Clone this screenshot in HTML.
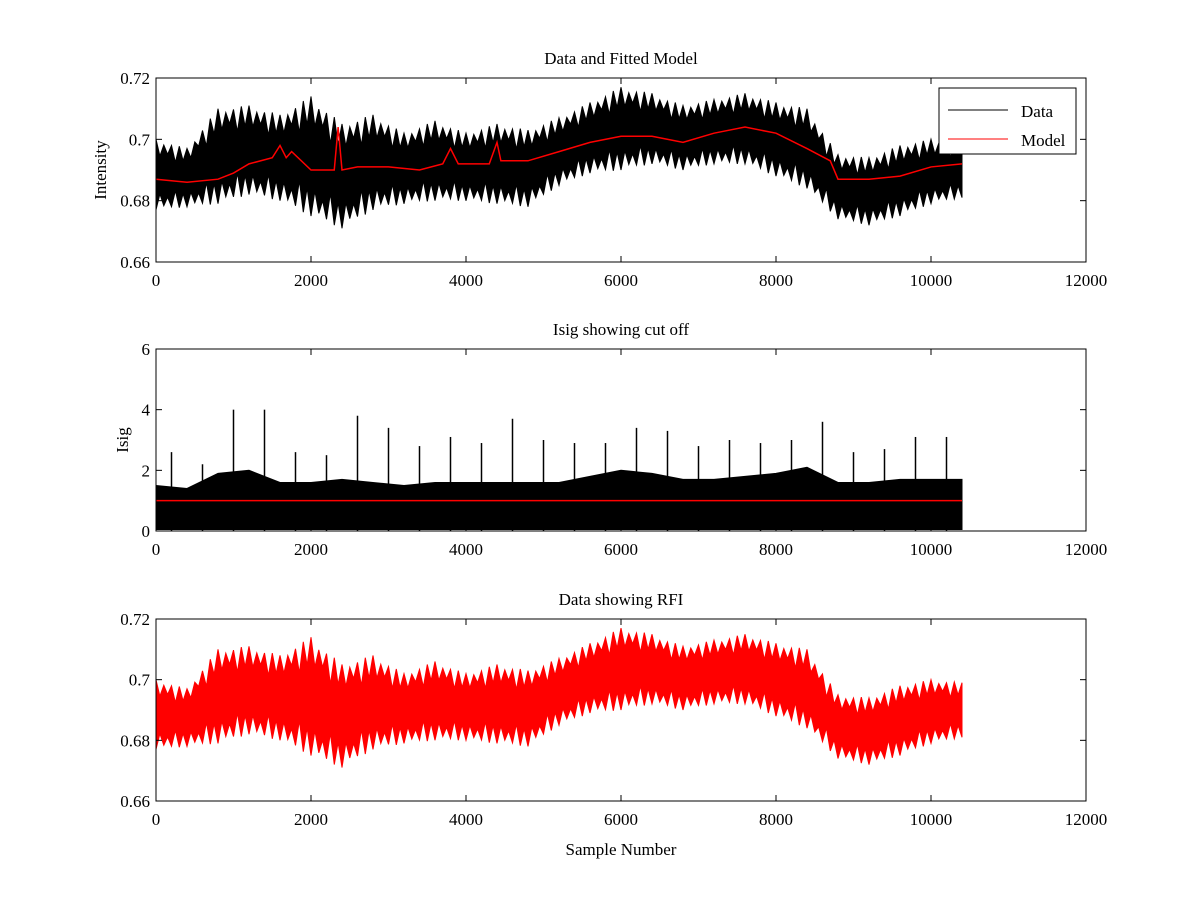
<!DOCTYPE html>
<html><head><meta charset="utf-8"><style>
body{margin:0;background:#fff;}
svg{display:block;font-family:"Liberation Serif",serif;}
</style></head><body>
<svg id="fig" width="1200" height="900" viewBox="0 0 1200 900"></svg>
<script>
// ---- data (400-sample bins) ----
const binStart = [0,400,800,1200,1600,2000,2400,2800,3200,3600,4000,4400,4800,5200,5600,6000,6400,6800,7200,7600,8000,8400,8800,9200,9600,10000,10400];
const dataLow  = [0.677,0.678,0.679,0.682,0.680,0.675,0.671,0.677,0.679,0.680,0.680,0.679,0.678,0.685,0.689,0.690,0.692,0.690,0.692,0.692,0.688,0.684,0.674,0.672,0.675,0.679,0.681];
const dataHigh = [0.700,0.697,0.710,0.711,0.708,0.714,0.705,0.708,0.702,0.706,0.702,0.705,0.703,0.707,0.712,0.717,0.715,0.711,0.713,0.715,0.712,0.710,0.695,0.694,0.698,0.700,0.699];
const modelX = [0,400,800,1000,1200,1500,1600,1680,1750,2000,2300,2350,2400,2600,3000,3400,3700,3800,3900,4300,4400,4450,4800,5200,5600,6000,6400,6800,7200,7600,8000,8400,8700,8800,9200,9600,10000,10400];
const modelY = [0.687,0.686,0.687,0.689,0.692,0.694,0.698,0.694,0.696,0.690,0.690,0.704,0.690,0.691,0.691,0.690,0.692,0.697,0.692,0.692,0.699,0.693,0.693,0.696,0.699,0.701,0.701,0.699,0.702,0.704,0.702,0.697,0.693,0.687,0.687,0.688,0.691,0.692];
const isigMax   = [2.6,2.2,4.0,4.0,2.6,2.5,3.8,3.4,2.8,3.1,2.9,3.7,3.0,2.9,2.9,3.4,3.3,2.8,3.0,2.9,3.0,3.6,2.6,2.7,3.1,3.1,3.0];
const isigDense = [1.5,1.4,1.9,2.0,1.6,1.6,1.7,1.6,1.5,1.6,1.6,1.6,1.6,1.6,1.8,2.0,1.9,1.7,1.7,1.8,1.9,2.1,1.6,1.6,1.7,1.7,1.7];
const cutoff = 1.0;
const xTicks = [0,2000,4000,6000,8000,10000,12000];
const yTicksI = [0.66,0.68,0.7,0.72];
const yTicksS = [0,2,4,6];

const NS="http://www.w3.org/2000/svg", svg=document.getElementById('fig');
function mk(tag,at,parent){const e=document.createElementNS(NS,tag);for(const k in at)e.setAttribute(k,at[k]);(parent||svg).appendChild(e);return e;}
const X0=156,X1=1086;
const xs=v=>X0+(v/12000)*(X1-X0);
function axes(top,bot,ymin,ymax,yt,title,ylab,name){
  const ys=v=>bot-(v-ymin)/(ymax-ymin)*(bot-top);
  const g=mk('g',{});
  
  
  return {g,ys,top,bot,yt,title,ylab,name};
}
function frame(a,isig){
  const g=a.g;
  const r=mk('rect',{x:X0,y:a.top,width:X1-X0,height:a.bot-a.top,fill:'none',stroke:'#000','stroke-width':1},g);
  
  xTicks.forEach(t=>{const x=xs(t);
    mk('line',{x1:x,x2:x,y1:a.bot,y2:a.bot-6,stroke:'#000'},g);
    mk('line',{x1:x,x2:x,y1:a.top,y2:a.top+6,stroke:'#000'},g);
    const tx=mk('text',{x:x,y:a.bot+24,'font-size':17,'text-anchor':'middle'},g);tx.textContent=t;
    });
  a.yt.forEach(t=>{const y=a.ys(t);
    mk('line',{x1:X0,x2:X0+6,y1:y,y2:y,stroke:'#000'},g);
    mk('line',{x1:X1,x2:X1-6,y1:y,y2:y,stroke:'#000'},g);
    const tx=mk('text',{x:X0-6,y:y+6,'font-size':17,'text-anchor':'end'},g);tx.textContent=String(t);
    });
  const ti=mk('text',{x:(X0+X1)/2,y:a.top-14,'font-size':17,'text-anchor':'middle'},g);ti.textContent=a.title;
  
  if(a.ylab){const yl=mk('text',{x:0,y:0,'font-size':17,'text-anchor':'middle',transform:`translate(${isig?128:106},${(a.top+a.bot)/2}) rotate(-90)`},g);yl.textContent=a.ylab;
    }
}
// ragged band: edges alternate between extreme and an inset toward the centre
function band(a,lo,hi,color,ragged){
  const up=[],dn=[];
  const n=binStart.length;
  for(let i=0;i<n;i++){
    const x=binStart[i];
    up.push([x,hi[i]]);dn.push([x,lo[i]]);
    if(ragged&&i<n-1){
      const w=binStart[i+1]-x;
      for(let k=1;k<8;k++){
        const f=k/8;
        const h=hi[i]+(hi[i+1]-hi[i])*f, l=lo[i]+(lo[i+1]-lo[i])*f;
        const c=(h+l)/2;
        const depth=(k%2)?(0.35+0.1*(k%3)):0.05*(k%3);
        up.push([x+w*f,h-(h-c)*depth]);
        dn.push([x+w*f,l+(c-l)*depth]);
      }
    }
  }
  let d='';
  up.forEach((p,i)=>{d+=(i?'L':'M')+xs(p[0]).toFixed(1)+','+a.ys(p[1]).toFixed(1);});
  for(let i=dn.length-1;i>=0;i--)d+='L'+xs(dn[i][0]).toFixed(1)+','+a.ys(dn[i][1]).toFixed(1);
  return mk('path',{d:d+'Z',fill:color,stroke:color,'stroke-width':1},a.g);
}
// ---- plot 1 ----
const a1=axes(78,262,0.66,0.72,yTicksI,'Data and Fitted Model','Intensity','data-model-plot');
const d1=band(a1,dataLow,dataHigh,'#000',true);

const m=mk('polyline',{points:modelX.map((x,i)=>xs(x)+','+a1.ys(modelY[i])).join(' '),fill:'none',stroke:'#f00','stroke-width':1.5},a1.g);

frame(a1);
const lg=mk('g',{},a1.g);
mk('rect',{x:939,y:88,width:137,height:66,fill:'#fff',stroke:'#000'},lg);
mk('line',{x1:948,x2:1008,y1:110,y2:110,stroke:'#000'},lg);
mk('line',{x1:948,x2:1008,y1:139,y2:139,stroke:'#f00'},lg);
let t=mk('text',{x:1021,y:117,'font-size':17},lg);t.textContent='Data';
t=mk('text',{x:1021,y:146,'font-size':17},lg);t.textContent='Model';
// ---- plot 2 ----
const a2=axes(349,531,0,6,yTicksS,'Isig showing cut off','Isig','isig-plot');
binStart.forEach((b,i)=>{
  if(i===binStart.length-1)return;
  const x=xs(b)+(xs(binStart[i+1])-xs(b))*0.5;
  const l=mk('line',{x1:x,x2:x,y1:a2.ys(0),y2:a2.ys(isigMax[i]),stroke:'#000','stroke-width':1.5},a2.g);
  
});
const dense=isigDense.map(()=>0.05);
const d2=band(a2,dense,isigDense,'#000',false);

const cl=mk('line',{x1:xs(0),x2:xs(10400),y1:a2.ys(cutoff),y2:a2.ys(cutoff),stroke:'#f00','stroke-width':1.5},a2.g);

frame(a2,true);
// ---- plot 3 ----
const a3=axes(619,801,0.66,0.72,yTicksI,'Data showing RFI','','rfi-plot');
const d3=band(a3,dataLow,dataHigh,'#f00',true);

frame(a3);
const xl=mk('text',{x:621,y:855,'font-size':17,'text-anchor':'middle'});xl.textContent='Sample Number';

</script>
</body></html>
